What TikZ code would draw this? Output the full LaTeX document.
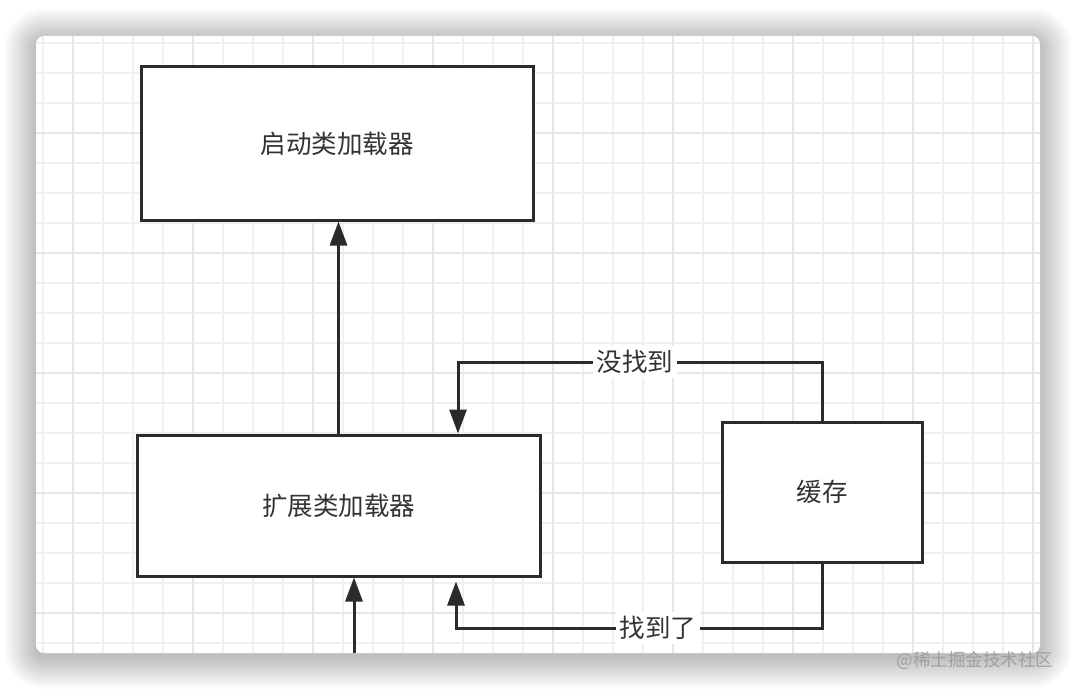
\documentclass[tikz,border=0pt]{standalone}
\usepackage{fontspec}
\newfontfamily\cjk{Noto Sans CJK SC}
\usetikzlibrary{arrows.meta}
\definecolor{ink}{HTML}{2B2B2B}
\definecolor{txt}{HTML}{333333}
\definecolor{gminor}{HTML}{F0F0F0}
\definecolor{gmajor}{HTML}{E6E6E6}
\definecolor{wm}{HTML}{A0A0A0}
\begin{document}
\begin{tikzpicture}[x=1pt,y=-1pt,
  box/.style={draw=ink, line width=3pt, fill=white, inner sep=0pt,
    font=\cjk\fontsize{25.5}{30}\selectfont, text=txt},
  lab/.style={fill=white, inner sep=4pt, font=\cjk\fontsize{25.5}{30}\selectfont, text=txt},
  arr/.style={draw=ink, line width=3pt, -{Triangle[length=24pt,width=17pt]}},
  gminorline/.style={draw=gminor, line width=1.2pt},
  gmajorline/.style={draw=gmajor, line width=2pt}]
\useasboundingbox (0,0) rectangle (1076,690);
\fill[white] (0,0) rectangle (1076,690);
% shadow
\foreach \i in {1,...,32}{
  \fill[black, opacity=0.0075, rounded corners=8pt+\i pt] (36-\i,40-\i) rectangle (1040+\i,657+\i);
}
% card
\fill[white, rounded corners=8pt] (36,36) rectangle (1040,653);
\begin{scope}
  \clip[rounded corners=8pt] (36,36) rectangle (1040,653);
  \foreach \x in {43,73,...,1040}{ \draw[gminorline] (\x,36) -- (\x,653); }
  \foreach \y in {43,73,...,653}{ \draw[gminorline] (36,\y) -- (1040,\y); }
  \foreach \x in {73,193,...,1040}{ \draw[gmajorline] (\x,36) -- (\x,653); }
  \foreach \y in {13,133,...,653}{ \draw[gmajorline] (36,\y) -- (1040,\y); }
\end{scope}
% boxes
\node[box, minimum width=392pt, minimum height=153pt] (boot) at (337,143.5) {启动类加载器};
\node[box, minimum width=403pt, minimum height=141pt] (ext) at (338.5,505.5) {扩展类加载器};
\node[box, minimum width=200pt, minimum height=140pt] (cache) at (822,492) {缓存};
% connectors
\draw[arr] (ext.north) -- (ext.north |- boot.south);
\coordinate (m1) at (458,362);
\coordinate (m2) at (456,628);
\coordinate (m3) at (354,653);
\draw[arr] (cache.north) |- (m1) -- (m1 |- ext.north);
\draw[arr] (cache.south) |- (m2) -- ([yshift=-4pt]m2 |- ext.south);
\draw[arr] (m3) -- (m3 |- ext.south);
\node[lab] (l1) at (635,362) {没找到};
\node[lab] (l2) at (658,628) {找到了};
% watermark
\node[font=\cjk\fontsize{17.5}{20}\selectfont, text=wm, inner sep=0pt] (wmark) at (975,661) {@稀土掘金技术社区};
\end{tikzpicture}
\end{document}
